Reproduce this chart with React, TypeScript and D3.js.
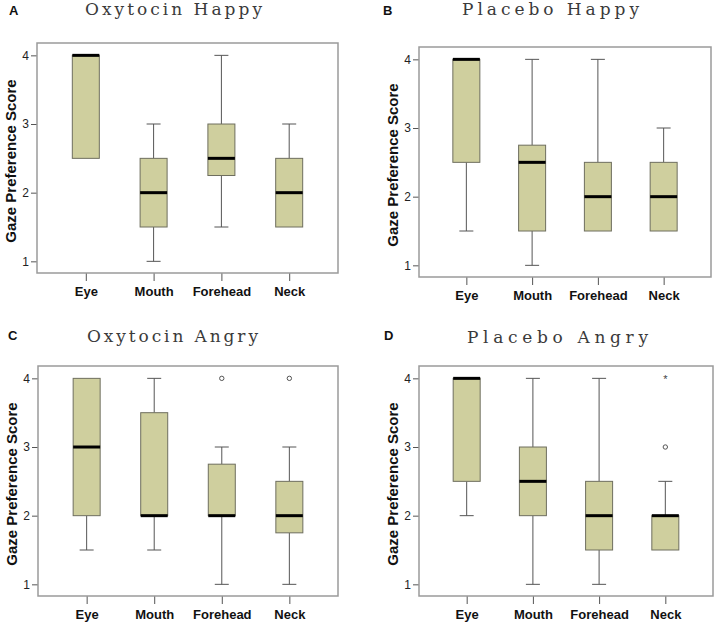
import React, { useEffect, useRef } from 'react';
import * as d3 from 'd3';

// categories and tick values shared by all four panels
const categories = ['Eye', 'Mouth', 'Forehead', 'Neck'];
const yTicks = [1, 2, 3, 4];

// box stats per category: [lowWhisker, q1, median, q3, highWhisker]
const oxytocinHappy = [
  [2.5, 2.5, 4, 4, 4],
  [1, 1.5, 2, 2.5, 3],
  [1.5, 2.25, 2.5, 3, 4],
  [1.5, 1.5, 2, 2.5, 3],
];
const placeboHappy = [
  [1.5, 2.5, 4, 4, 4],
  [1, 1.5, 2.5, 2.75, 4],
  [1.5, 1.5, 2, 2.5, 4],
  [1.5, 1.5, 2, 2.5, 3],
];
const oxytocinAngry = [
  [1.5, 2, 3, 4, 4],
  [1.5, 2, 2, 3.5, 4],
  [1, 2, 2, 2.75, 3],
  [1, 1.75, 2, 2.5, 3],
];
const placeboAngry = [
  [2, 2.5, 4, 4, 4],
  [1, 2, 2.5, 3, 4],
  [1, 1.5, 2, 2.5, 4],
  [1.5, 1.5, 2, 2, 2.5],
];

// outliers: [category, value, kind]
const oxytocinAngryOutliers = [
  ['Forehead', 4, 'o'],
  ['Neck', 4, 'o'],
];
const placeboAngryOutliers = [
  ['Neck', 3, 'o'],
  ['Neck', 4, '*'],
];

const panels = [
  { letter: 'A', title: 'Oxytocin Happy', stats: oxytocinHappy, outliers: [],
    x0: 37, x1: 338, y0: 43, y1: 273, tx: 85, tw: 177, ty: 15, lx: 9, ly: 15 },
  { letter: 'B', title: 'Placebo Happy', stats: placeboHappy, outliers: [],
    x0: 419, x1: 711, y0: 47, y1: 277, tx: 462, tw: 177, ty: 15, lx: 383, ly: 15 },
  { letter: 'C', title: 'Oxytocin Angry', stats: oxytocinAngry, outliers: oxytocinAngryOutliers,
    x0: 38, x1: 338, y0: 366, y1: 596, tx: 87, tw: 171, ty: 342, lx: 8, ly: 340 },
  { letter: 'D', title: 'Placebo Angry', stats: placeboAngry, outliers: placeboAngryOutliers,
    x0: 419, x1: 713, y0: 366, y1: 596, tx: 467, tw: 181, ty: 343, lx: 384, ly: 340 },
];

const App = () => {
  const svgRef = useRef(null);

  const width = 722;
  const height = 628;
  const boxWidth = 27;
  const capWidth = 14;
  const sans = 'Liberation Sans, Arial, sans-serif';

  useEffect(() => {
    document.body.style.margin = '0';
    const svg = d3.select(svgRef.current);
    svg.selectAll('*').remove();

    svg.append('rect').attr('width', width).attr('height', height).attr('fill', '#fff');

    panels.forEach(p => {
      const g = svg.append('g');

      const x = d3.scalePoint()
        .domain(categories)
        .range([p.x0, p.x1])
        .padding(0.72);

      const y = d3.scaleLinear()
        .domain([0.83, 4.18])
        .range([p.y1, p.y0]);

      // panel letter + title
      g.append('text')
        .attr('x', p.lx).attr('y', p.ly)
        .attr('font-family', sans).attr('font-weight', 'bold').attr('font-size', 13)
        .attr('fill', '#111')
        .text(p.letter);

      g.append('text')
        .attr('x', p.tx).attr('y', p.ty)
        .attr('font-family', 'DejaVu Serif, serif').attr('font-size', 17)
        .attr('fill', '#3a3a3a')
        .attr('textLength', p.tw).attr('lengthAdjust', 'spacing')
        .text(p.title);

      // y label
      g.append('text')
        .attr('transform', `translate(${p.x0 - 21},${(p.y0 + p.y1) / 2 + 3}) rotate(-90)`)
        .attr('text-anchor', 'middle')
        .attr('font-family', sans).attr('font-weight', 'bold').attr('font-size', 15)
        .attr('fill', '#111')
        .text('Gaze Preference Score');

      // Y axis
      g.append('g')
        .attr('transform', `translate(${p.x0},0)`)
        .call(d3.axisLeft(y).tickValues(yTicks).tickSize(6).tickPadding(2).tickFormat(d3.format('d')))
        .call(a => a.select('.domain').remove())
        .call(a => a.selectAll('line').attr('stroke', '#555'))
        .call(a => a.selectAll('text').attr('font-family', sans).attr('font-size', 12).attr('fill', '#222'));

      // X axis
      g.append('g')
        .attr('transform', `translate(0,${p.y1})`)
        .call(d3.axisBottom(x).tickSize(8).tickPadding(6))
        .call(a => a.select('.domain').remove())
        .call(a => a.selectAll('line').attr('stroke', '#555'))
        .call(a => a.selectAll('text')
          .attr('font-family', sans).attr('font-weight', 'bold').attr('font-size', 13).attr('fill', '#111'));

      // frame
      g.append('rect')
        .attr('x', p.x0).attr('y', p.y0)
        .attr('width', p.x1 - p.x0).attr('height', p.y1 - p.y0)
        .attr('fill', 'none').attr('stroke', '#9a9a9a').attr('stroke-width', 1.5);

      const boxes = g.selectAll('g.box')
        .data(p.stats.map((s, i) => ({ cat: categories[i], s })))
        .join('g')
        .attr('class', 'box');

      // whiskers
      boxes.append('line')
        .attr('x1', d => x(d.cat)).attr('x2', d => x(d.cat))
        .attr('y1', d => y(d.s[0])).attr('y2', d => y(d.s[1]))
        .attr('stroke', '#555');
      boxes.append('line')
        .attr('x1', d => x(d.cat)).attr('x2', d => x(d.cat))
        .attr('y1', d => y(d.s[3])).attr('y2', d => y(d.s[4]))
        .attr('stroke', '#555');
      boxes.filter(d => d.s[0] < d.s[1]).append('line')
        .attr('x1', d => x(d.cat) - capWidth / 2).attr('x2', d => x(d.cat) + capWidth / 2)
        .attr('y1', d => y(d.s[0])).attr('y2', d => y(d.s[0]))
        .attr('stroke', '#555');
      boxes.filter(d => d.s[4] > d.s[3]).append('line')
        .attr('x1', d => x(d.cat) - capWidth / 2).attr('x2', d => x(d.cat) + capWidth / 2)
        .attr('y1', d => y(d.s[4])).attr('y2', d => y(d.s[4]))
        .attr('stroke', '#555');

      // box
      boxes.append('rect')
        .attr('x', d => x(d.cat) - boxWidth / 2)
        .attr('y', d => y(d.s[3]))
        .attr('width', boxWidth)
        .attr('height', d => y(d.s[1]) - y(d.s[3]))
        .attr('fill', '#cfcf9e')
        .attr('stroke', '#6e6e5e');

      // median
      boxes.append('line')
        .attr('x1', d => x(d.cat) - boxWidth / 2).attr('x2', d => x(d.cat) + boxWidth / 2)
        .attr('y1', d => y(d.s[2])).attr('y2', d => y(d.s[2]))
        .attr('stroke', '#000').attr('stroke-width', 3);

      // outliers
      p.outliers.filter(o => o[2] === 'o').forEach(o => {
        g.append('circle')
          .attr('cx', x(o[0])).attr('cy', y(o[1])).attr('r', 2.2)
          .attr('fill', '#fff').attr('stroke', '#555').attr('stroke-width', 1);
      });
      p.outliers.filter(o => o[2] === '*').forEach(o => {
        g.append('text')
          .attr('x', x(o[0])).attr('y', y(o[1]) + 5)
          .attr('text-anchor', 'middle')
          .attr('font-family', sans).attr('font-size', 11).attr('fill', '#444')
          .text('*');
      });
    });
  }, []);

  return (
    <div style={{ width: width, height: height }}>
      <svg ref={svgRef} width={width} height={height} style={{ display: 'block' }}></svg>
    </div>
  );
};

export default App;
